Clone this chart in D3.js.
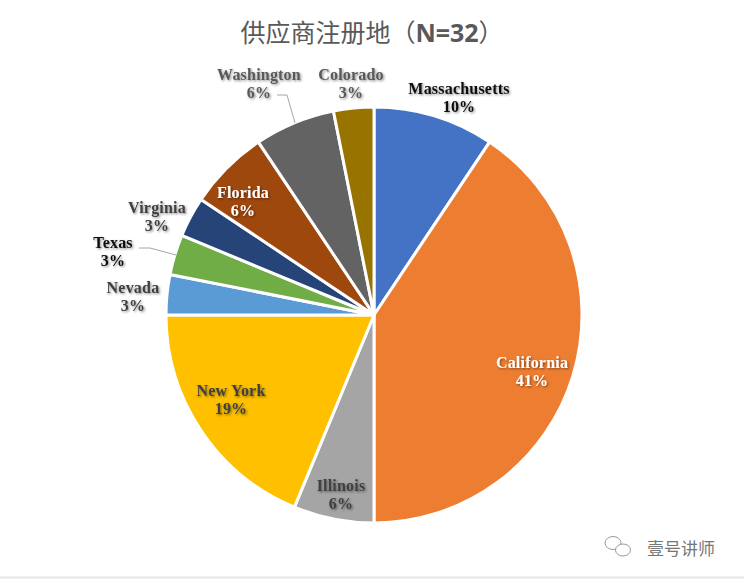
<!DOCTYPE html>
<html><head><meta charset="utf-8">
<script src="https://cdn.jsdelivr.net/npm/d3@7"></script>
<style>body{margin:0;background:#fff}svg{display:block}</style>
</head><body>
<svg id="c" width="744" height="580"></svg>
<script>
const categories = ["Massachusetts","California","Illinois","New York","Nevada","Texas","Virginia","Florida","Washington","Colorado"];
const counts = [3,13,2,6,1,1,1,2,2,1];
const percentLabels = ["10%","41%","6%","19%","3%","3%","3%","6%","6%","3%"];
const colors = ["#4472C4","#ED7D31","#A5A5A5","#FFC000","#5B9BD5","#70AD47","#264478","#9E480E","#636363","#997300"];
const labelColors = ["#111","#fff","#404040","#404040","#404040","#111","#404040","#fff","#595959","#595959"];
// label anchor points (centre of the two-line label)
const labelPos = [[459,97],[532,371],[341,494],[231,399],[133,296],[113,251],[157,216],[243,201],[259,83],[351,83]];
const leaders = {8:[[277,95],[287,95],[295,123]], 5:[[139,248],[150,248],[176,255]]};
const title = "供应商注册地（";

const svg = d3.select("#c");
const defs = svg.append("defs");
const f = defs.append("filter").attr("id","sh").attr("x","-20%").attr("y","-20%").attr("width","140%").attr("height","140%");
f.append("feDropShadow").attr("dx",1.2).attr("dy",1.2).attr("stdDeviation",1).attr("flood-color","#000").attr("flood-opacity",0.45);

const cx = 374, cy = 315, R = 208;
const pie = d3.pie().sort(null).value(d=>d)(counts);
const arc = d3.arc().innerRadius(0).outerRadius(R);
const g = svg.append("g").attr("transform",`translate(${cx},${cy})`);
g.selectAll("path").data(pie).join("path")
  .attr("d",arc).attr("fill",(d,i)=>colors[i])
  .attr("stroke","#fff").attr("stroke-width",3).attr("stroke-linejoin","round");

// leader lines
Object.entries(leaders).forEach(([i,pts])=>{
  svg.append("polyline").attr("points",pts.map(p=>p.join(",")).join(" "))
    .attr("fill","none").attr("stroke","#a6a6a6").attr("stroke-width",1);
});

const lg = svg.append("g").attr("font-family","'Liberation Serif','Times New Roman',serif")
  .attr("font-weight","bold").attr("font-size",16).attr("letter-spacing",0.2).attr("text-anchor","middle");
categories.forEach((c,i)=>{
  const t = lg.append("text").attr("x",labelPos[i][0]).attr("y",labelPos[i][1])
    .attr("fill",labelColors[i]).attr("filter","url(#sh)");
  t.append("tspan").attr("x",labelPos[i][0]).attr("dy","-0.2em").text(c);
  t.append("tspan").attr("x",labelPos[i][0]).attr("dy","1.12em").text(percentLabels[i]);
});

// title
const tt = svg.append("text").attr("x",372).attr("y",42).attr("text-anchor","middle")
  .attr("font-family","'Noto Sans CJK SC','Noto Sans',sans-serif").attr("font-size",25).attr("fill","#595959");
tt.append("tspan").text(title);
tt.append("tspan").attr("font-weight","bold").attr("font-family","'Open Sans','Noto Sans',sans-serif").text("N="+d3.sum(counts));
tt.append("tspan").text("）");

// watermark
const wm = svg.append("g").attr("fill","none").attr("stroke","#9a9a9a").attr("stroke-width",1);
wm.append("ellipse").attr("cx",613).attr("cy",543).attr("rx",8).attr("ry",6.5);
wm.append("ellipse").attr("cx",623).attr("cy",550).attr("rx",7.5).attr("ry",6).attr("fill","#fff");
svg.append("text").attr("x",647).attr("y",555).attr("font-family","'Noto Sans CJK SC',sans-serif")
  .attr("font-size",17).attr("fill","#777").text("壹号讲师");
svg.append("line").attr("x1",0).attr("x2",744).attr("y1",577.5).attr("y2",577.5).attr("stroke","#e6e6e6").attr("stroke-width",2);
</script>
</body></html>
